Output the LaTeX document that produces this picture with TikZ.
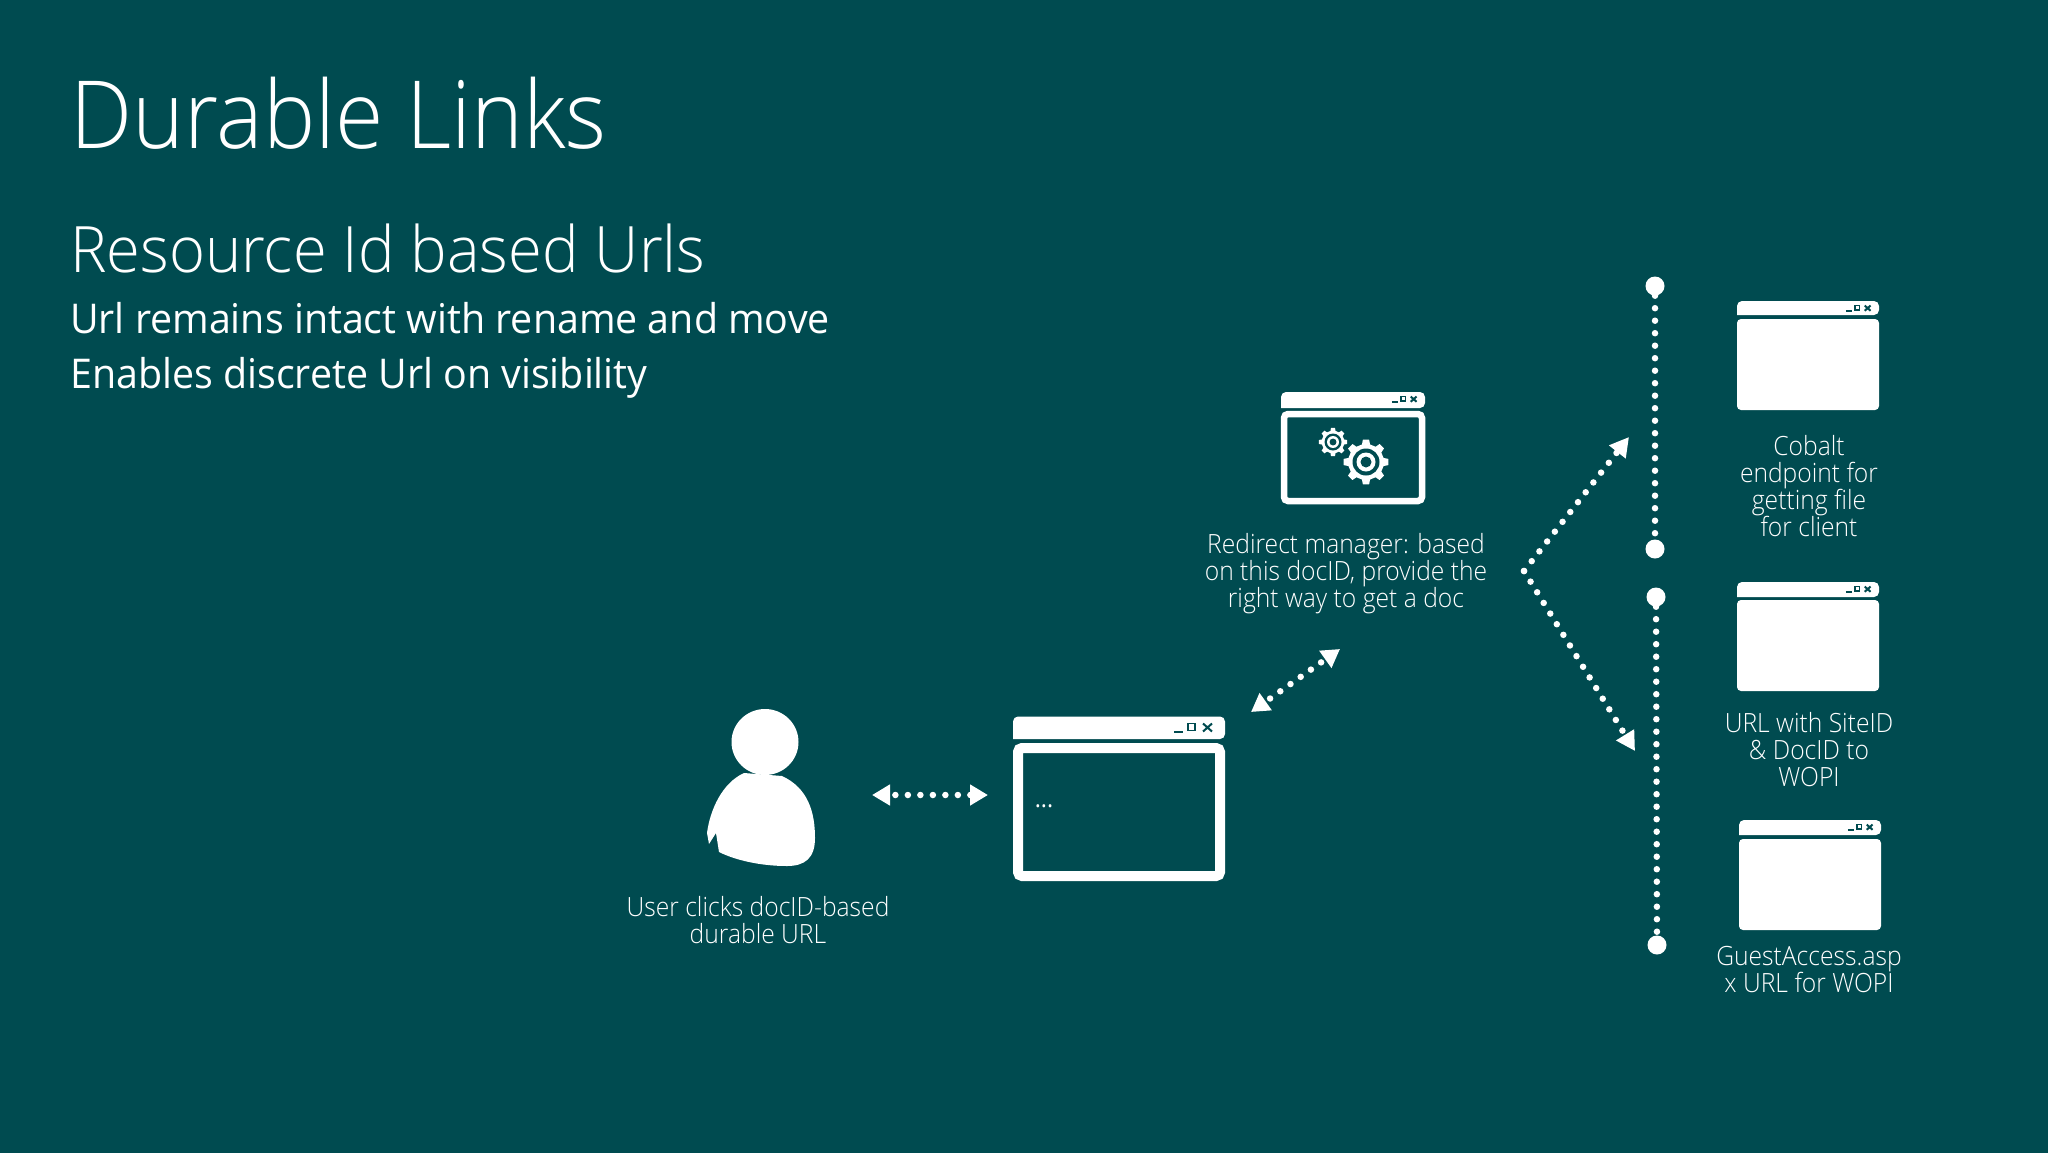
\documentclass[tikz,border=0pt]{standalone}
\usepackage{fontspec}
\setmainfont{Open Sans}[FakeStretch=0.96]
\newfontfamily\titlefont{Open Sans Light}[FakeStretch=0.935]
\newfontfamily\subfont{Open Sans Light}[FakeStretch=0.96]
\newfontfamily\lightfont{Open Sans Light}[FakeStretch=0.93]
\usetikzlibrary{arrows.meta, shapes.geometric}
\definecolor{slidebg}{HTML}{004B50}
\tikzset{
  title/.style={anchor=base west, inner sep=0, text=white, font=\titlefont\fontsize{94}{94}\selectfont},
  subtitle/.style={anchor=base west, inner sep=0, text=white, font=\subfont\fontsize{64}{64}\selectfont},
  bullet/.style={anchor=base west, inner sep=0, text=white, font=\fontsize{41}{41}\selectfont},
  caption/.style={align=center, inner sep=0, text=white, font=\lightfont\fontsize{26.5}{27}\selectfont},
  endpoint/.style={circle, fill=white, inner sep=0, minimum size=19},
  dotline/.style={white, line width=6.5, line cap=round, dash pattern=on 0pt off 12.5pt},
  dotarrow/.style={dotline, dash phase=6, {Triangle[width=20,length=18]}-{Triangle[width=20,length=18]}},
  dotforward/.style={dotline, -{Triangle[width=20,length=19]}},
  winfull/.style={fill=white, inner sep=0, rounded corners=4},
  winframe/.style={draw=white, fill=slidebg, inner sep=0, rounded corners=4},
}
% title bar with its three buttons: left, top, right, bottom, scale of the buttons
\newcommand{\winbar}[5]{
\fill[white, rounded corners=5] (#1,#4) -- (#1,#2) -- (#3,#2) -- (#3,#4) [sharp corners] -- cycle;
\begin{scope}[shift={(#3,#2)}, scale=#5]
\draw[slidebg, line width=2] (-51,15) -- (-42,15);
\draw[slidebg, line width=1.6] (-37,7) rectangle (-30,14);
\draw[slidebg, line width=2] (-22,7) -- (-13,15) (-22,15) -- (-13,7);
\end{scope}
}
\begin{document}
\begin{tikzpicture}[x=1pt, y=-1pt]
\useasboundingbox (0,0) rectangle (2048,1152);
\fill[slidebg] (-5,-5) rectangle (2053,1157);
\node[title] (main) at (70,148) {Durable Links};
\node[subtitle] (sub) at (70,272) {Resource Id based Urls};
\node[bullet] (line1) at (70,333) {Url remains intact with rename and move};
\node[bullet] (line2) at (70,388) {Enables discrete Url on visibility};
% user
\node[ellipse, fill=white, inner sep=0, minimum width=67, minimum height=66] (head) at (765,742) {};
\fill[white] (744,773) .. controls (722,783) and (710,810) .. (707,833) -- (709,844) -- (716,833)
  -- (719,852) .. controls (735,860) and (760,866) .. (787,866) .. controls (805,866) and (815,858) .. (815,838)
  .. controls (815,812) and (808,788) .. (782,776) -- cycle;
\node[caption] (usertext) at (758,920) {User clicks docID-based\\durable URL};
% browser
\winbar{1013}{716.5}{1225}{739}{1}
\node[winframe, line width=10, minimum width=202, minimum height=128] (browser) at (1119,812) {};
\node[text=white, inner sep=0, font=\fontsize{24}{24}\selectfont] (dots) at (1044,806) {...};
% redirect manager
\winbar{1281}{392}{1425}{408}{0.65}
\node[winframe, line width=6.5, minimum width=138, minimum height=87] (manager) at (1353,457.5) {};
\foreach \cx/\cy/\rr in {1333/442/0.63, 1366/462/1} {
  \begin{scope}[shift={(\cx,\cy)}, scale=\rr]
  \fill[white] (0:18) \foreach \a in {0,45,...,315} {
    -- (\a-13:18) -- (\a-8:22.5) -- (\a+8:22.5) -- (\a+13:18) -- (\a+32:18) };
  \fill[slidebg] (0,0) circle (13.5);
  \fill[white] (0,0) circle (9.5);
  \fill[slidebg] (0,0) circle (5.5);
  \end{scope}
}
\node[caption] (managertext) at (1346,574) {Redirect manager: based\\on this docID, provide the\\right way to get a doc};
% targets
\winbar{1737}{301}{1879}{315}{0.65}
\node[winfull, minimum width=142, minimum height=91] (cobalt) at (1808,364.5) {};
\node[caption] (cobalttext) at (1809,486) {Cobalt\\endpoint for\\getting file\\for client};
\winbar{1737}{582}{1879}{597}{0.65}
\node[winfull, minimum width=142, minimum height=91] (siteid) at (1808,645.5) {};
\node[caption] (siteidtext) at (1809,750) {URL with SiteID\\\& DocID to\\WOPI};
\winbar{1739}{820}{1881}{835}{0.65}
\node[winfull, minimum width=142, minimum height=91] (guest) at (1810,884.5) {};
\node[caption] (guesttext) at (1809,970) {GuestAccess.asp\\x URL for WOPI};
% connectors
\node[endpoint] (topa) at (1655,286) {};
\node[endpoint] (topb) at (1655,549) {};
\node[endpoint] (lowa) at (1656,597) {};
\node[endpoint] (lowb) at (1657,945) {};
\draw[dotline] (topa) -- (topb);
\draw[dotline] (lowa) -- (lowb);
\coordinate (useend) at (872,795);
\coordinate (browserend) at (988,795);
\draw[dotarrow] (useend) -- (browserend);
\coordinate (browsertip) at (1251,712);
\coordinate (managertip) at (1340,649);
\draw[dotarrow] (browsertip) -- (managertip);
\coordinate (fork) at (1524,571);
\coordinate (forkup) at (1629,437);
\coordinate (forkdown) at (1635,751);
\draw[dotforward] (fork) -- (forkup);
\draw[dotforward] (fork) -- (forkdown);
\end{tikzpicture}
\end{document}
